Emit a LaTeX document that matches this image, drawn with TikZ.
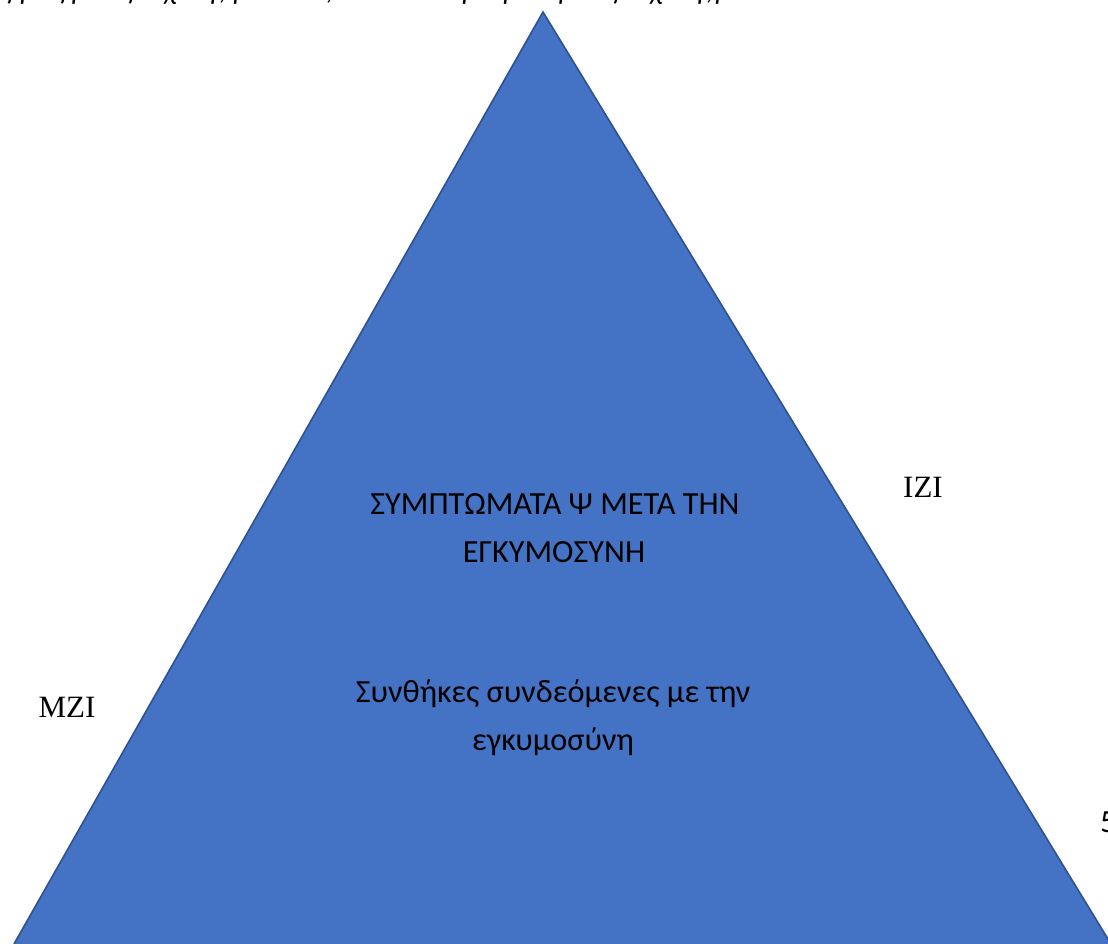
\documentclass[tikz,border=0pt]{standalone}
\usepackage{fontspec}
\setmainfont{Liberation Serif}
\newfontfamily\calfont{Carlito}
\definecolor{triblue}{HTML}{4472C4}
\definecolor{triedge}{HTML}{2F528F}
\begin{document}
\begin{tikzpicture}[x=1pt,y=-1pt,
  label/.style={inner sep=0pt,anchor=base,font=\fontsize{31}{31}\selectfont},
  inner/.style={inner sep=0pt,anchor=base,font=\calfont\fontsize{32.3}{32.3}\selectfont},
  frag/.style={inner sep=0pt,anchor=base west,font=\calfont\itshape\fontsize{30}{30}\selectfont}]
\useasboundingbox (0,0) rectangle (1108,944);
\fill[white] (0,0) rectangle (1108,944);
\begin{scope}
\clip (0,0) rectangle (1108,944);
\coordinate (apex) at (543,12);
\coordinate (bl) at (14,944);
\coordinate (br) at (1111,944);
\filldraw[fill=triblue,draw=triedge,line width=1.6pt,line join=miter] (bl) -- (apex) -- (br);
\end{scope}
% clipped first line of text above the picture
\begin{scope}
\clip (0,0) rectangle (1108,13);
\foreach \x/\g [count=\i] in {0/ς,20/ρ,54/ζ,68/γ,122/ζ,164/χ,207/γ,219/{,},233/ρ,326/{,},462/ρ,503/ρ,555/γ,607/ζ,650/χ,694/γ,706/{,},715/ρ}
  \node[frag] (f\i) at (\x,0) {\g};
\end{scope}
\node[inner] (t1) at (555,514) {ΣΥΜΠΤΩΜΑΤΑ Ψ ΜΕΤΑ ΤΗΝ};
\node[inner] (t2) at (554,562) {ΕΓΚΥΜΟΣΥΝΗ};
\node[inner] (t3) at (553,702) {Συνθήκες συνδεόμενες με την};
\node[inner] (t4) at (553,750) {εγκυμοσύνη};
\node[label] (izi) at (923,497) {IZI};
\node[label] (mzi) at (67,717) {MZI};
\begin{scope}
\clip (0,0) rectangle (1108,944);
\node[inner,anchor=base west] (five) at (1100,832) {5};
\end{scope}
\end{tikzpicture}
\end{document}
